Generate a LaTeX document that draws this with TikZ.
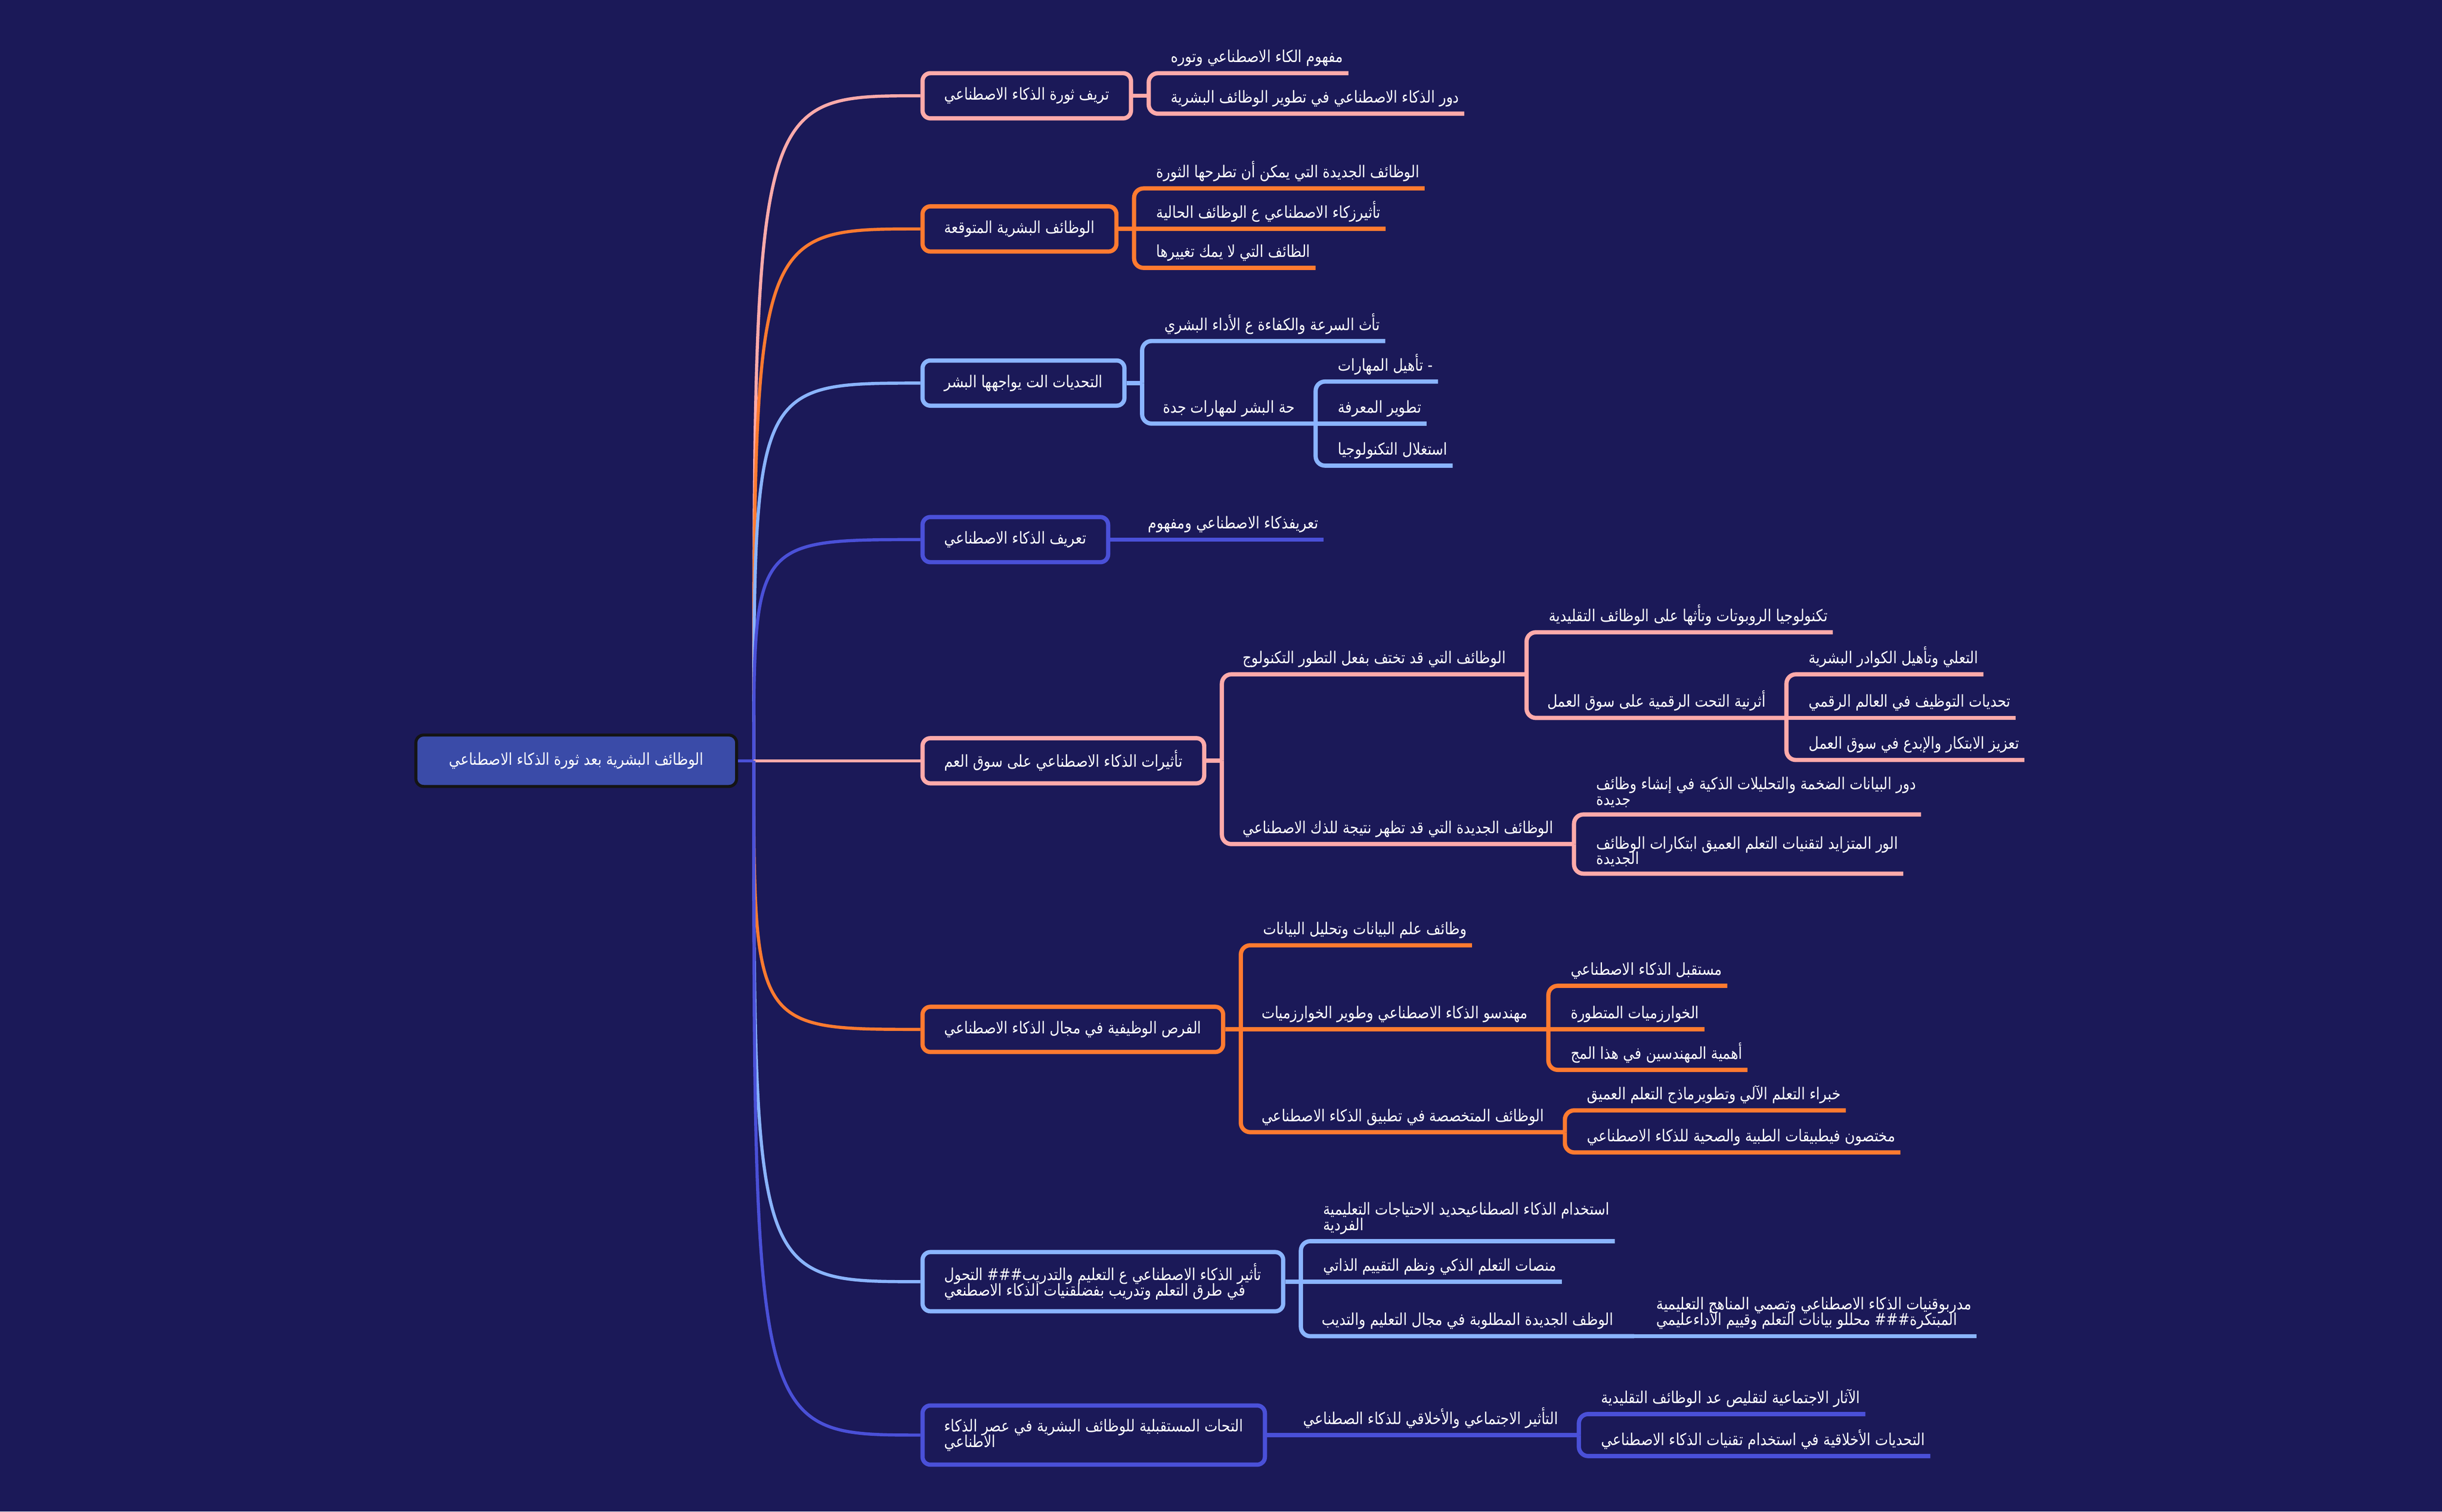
\documentclass[tikz,border=0pt]{standalone}
\usepackage{fontspec}
\newfontfamily\arabicfont[Script=Arabic, FakeStretch=0.85]{DejaVu Sans}
\TeXXeTstate=1
\newcommand\artx[1]{\beginR #1\endR}
\newcommand\tightlines{\lineskiplimit=-6pt\relax}
\definecolor{bgc}{HTML}{1B1958}
\definecolor{pinkc}{HTML}{FFAAAA}
\definecolor{orangec}{HTML}{FF7A30}
\definecolor{bluec}{HTML}{8AB4FF}
\definecolor{indigoc}{HTML}{4A50D8}
\definecolor{rootc}{HTML}{3A4BA8}
\tikzset{
  txt/.style={text=white, font=\arabicfont\fontsize{6}{5.7}\selectfont\tightlines, align=left},
  root/.style={txt, fill=rootc, draw=black!92, line width=1.1pt, rounded corners=0.1cm, minimum width=4.12cm, minimum height=0.66cm},
  topic/.style={txt, draw=#1, fill=bgc, line width=1.55pt, rounded corners=0.1cm, anchor=west, inner xsep=0.28cm, minimum height=0.58cm},
  leaf/.style={txt, anchor=south west, xshift=0.22cm, inner xsep=0.06cm, inner ysep=2.3pt},
  mid/.style={txt, anchor=south west, inner xsep=0.26cm, inner ysep=2.3pt},
  tie/.style={draw=#1, line width=1.55pt, rounded corners=0.12cm},
  trunk/.style={draw=#1, line width=1.15pt}
}
\begin{document}
\begin{tikzpicture}[x=0.02cm,y=-0.02cm]
\fill[bgc] (0,0) rectangle (1568,970.6);
\node[root] (root) at (370,488.5) {\artx{الوظائف البشرية بعد ثورة الذكاء الاصطناعي}};
\coordinate (hub) at (484,488.5);

\node[topic=pinkc] (b1) at (591,61.5) {\artx{تريف ثورة الذكاء الاصطناعي}};
\node[topic=orangec] (b2) at (591,147) {\artx{الوظائف البشرية المتوقعة}};
\node[topic=bluec] (b3) at (591,246) {\artx{التحديات الت يواجهها البشر}};
\node[topic=indigoc] (b4) at (591,346.5) {\artx{تعريف الذكاء الاصطناعي}};
\node[topic=pinkc] (b5) at (591,488.5) {\artx{تأثيرات الذكاء الاصطناعي على سوق العم}};
\node[topic=orangec] (b6) at (591,661) {\artx{الفرص الوظيفية في مجال الذكاء الاصطناعي}};
\node[topic=bluec, minimum height=0.76cm] (b7) at (591,823) {\artx{تأثير الذكاء الاصطناعي ع التعليم والتدريب\#\#\# التحول}\\\artx{في طرق التعلم وتدريب بفضلقنيات الذكاء الاصطنعي}};
\node[topic=indigoc, minimum height=0.76cm] (b8) at (591,921.5) {\artx{التحات المستقبلية للوظائف البشرية في عصر الذكاء}\\\artx{الاطناعي}};

\draw[trunk=indigoc] (root.east) -- (hub);
\draw[trunk=pinkc] (hub) .. controls (hub |- b1.west) .. (b1.west);
\draw[trunk=orangec] (hub) .. controls (hub |- b2.west) .. (b2.west);
\draw[trunk=bluec] (hub) .. controls (hub |- b3.west) .. (b3.west);
\draw[trunk=indigoc] (hub) .. controls (hub |- b4.west) .. (b4.west);
\draw[trunk=pinkc] (hub) -- (b5.west);
\draw[trunk=orangec] (hub) .. controls (hub |- b6.west) .. (b6.west);
\draw[trunk=bluec] (hub) .. controls (hub |- b7.west) .. (b7.west);
\draw[trunk=indigoc] (hub) .. controls (hub |- b8.west) .. (b8.west);

\coordinate (j1) at ([xshift=0.2cm]b1.east);
\node[leaf] (c11) at (j1 |- 0,47) {\artx{مفهوم الكاء الاصطناعي وتوره}};
\node[leaf] (c12) at (j1 |- 0,73) {\artx{دور الذكاء الاصطناعي في تطوير الوظائف البشرية}};
\draw[tie=pinkc] (b1.east) -- (j1);
\draw[tie=pinkc] (j1) |- (c11.south east);
\draw[tie=pinkc] (j1) |- (c12.south east);

\coordinate (j2) at ([xshift=0.2cm]b2.east);
\node[leaf] (c21) at (j2 |- 0,121) {\artx{الوظائف الجديدة التي يمكن أن تطرحها الثورة}};
\node[leaf] (c22) at (j2 |- 0,147) {\artx{تأثيرزكاء الاصطناعي ع الوظائف الحالية}};
\node[leaf] (c23) at (j2 |- 0,172) {\artx{الظائف التي لا يمك تغييرها}};
\draw[tie=orangec] (b2.east) -- (c22.south east);
\draw[tie=orangec] (j2) |- (c21.south east);
\draw[tie=orangec] (j2) |- (c23.south east);

\coordinate (j3) at ([xshift=0.2cm]b3.east);
\node[leaf] (c31) at (j3 |- 0,219) {\artx{تأث السرعة والكفاءة ع الأداء البشري}};
\node[mid] (c32) at (j3 |- 0,272) {\artx{حة البشر لمهارات جدة}};
\draw[tie=bluec] (b3.east) -- (j3);
\draw[tie=bluec] (j3) |- (c31.south east);
\draw[tie=bluec] (j3) |- (c32.south east);
\coordinate (j32) at (c32.south east);
\node[leaf] (c321) at (j32 |- 0,245) {\artx{- تأهيل المهارات}};
\node[leaf] (c322) at (j32 |- 0,272) {\artx{تطوير المعرفة}};
\node[leaf] (c323) at (j32 |- 0,299) {\artx{استغلال التكنولوجيا}};
\draw[tie=bluec] (j32) |- (c321.south east);
\draw[tie=bluec] (j32) -- (c322.south east);
\draw[tie=bluec] (j32) |- (c323.south east);

\coordinate (j4) at ([xshift=0.2cm]b4.east);
\node[leaf] (c41) at (j4 |- 0,346.5) {\artx{تعريفذكاء الاصطناعي ومفهوم}};
\draw[tie=indigoc] (b4.east) -- (c41.south east);

\coordinate (j5) at ([xshift=0.2cm]b5.east);
\node[mid] (c51) at (j5 |- 0,433) {\artx{الوظائف التي قد تختف بفعل التطور التكنولوج}};
\node[mid] (c52) at (j5 |- 0,542) {\artx{الوظائف الجديدة التي قد تظهر نتيجة للذك الاصطناعي}};
\draw[tie=pinkc] (b5.east) -- (j5);
\draw[tie=pinkc] (j5) |- (c51.south east);
\draw[tie=pinkc] (j5) |- (c52.south east);
\coordinate (j51) at (c51.south east);
\node[leaf] (c511) at (j51 |- 0,406) {\artx{تكنولوجيا الروبوتات وتأثها على الوظائف التقليدية}};
\node[mid] (c512) at (j51 |- 0,461) {\artx{أثرنية التحت الرقمية على سوق العمل}};
\draw[tie=pinkc] (j51) |- (c511.south east);
\draw[tie=pinkc] (j51) |- (c512.south east);
\coordinate (j512) at (c512.south east);
\node[leaf] (c5121) at (j512 |- 0,433) {\artx{التعلي وتأهيل الكوادر البشرية}};
\node[leaf] (c5122) at (j512 |- 0,461) {\artx{تحديات التوظيف في العالم الرقمي}};
\node[leaf] (c5123) at (j512 |- 0,488) {\artx{تعزيز الابتكار والإبدع في سوق العمل}};
\draw[tie=pinkc] (j512) |- (c5121.south east);
\draw[tie=pinkc] (j512) -- (c5122.south east);
\draw[tie=pinkc] (j512) |- (c5123.south east);
\coordinate (j52) at (c52.south east);
\node[leaf] (c521) at (j52 |- 0,523) {\artx{دور البيانات الضخمة والتحليلات الذكية في إنشاء وظائف}\\\artx{جديدة}};
\node[leaf] (c522) at (j52 |- 0,561) {\artx{الور المتزايد لتقنيات التعلم العميق ابتكارات الوظائف}\\\artx{الجديدة}};
\draw[tie=pinkc] (j52) |- (c521.south east);
\draw[tie=pinkc] (j52) |- (c522.south east);

\coordinate (j6) at ([xshift=0.2cm]b6.east);
\node[leaf] (c61) at (j6 |- 0,607) {\artx{وظائف علم البيانات وتحليل البيانات}};
\node[mid] (c62) at (j6 |- 0,661) {\artx{مهندسو الذكاء الاصطناعي وطوير الخوارزميات}};
\node[mid] (c63) at (j6 |- 0,727) {\artx{الوظائف المتخصصة في تطبيق الذكاء الاصطناعي}};
\draw[tie=orangec] (b6.east) -- (c62.south east);
\draw[tie=orangec] (j6) |- (c61.south east);
\draw[tie=orangec] (j6) |- (c63.south east);
\coordinate (j62) at (c62.south east);
\node[leaf] (c621) at (j62 |- 0,633) {\artx{مستقبل الذكاء الاصطناعي}};
\node[leaf] (c622) at (j62 |- 0,661) {\artx{الخوارزميات المتطورة}};
\node[leaf] (c623) at (j62 |- 0,687) {\artx{أهمية المهندسين في هذا المج}};
\draw[tie=orangec] (j62) |- (c621.south east);
\draw[tie=orangec] (j62) -- (c622.south east);
\draw[tie=orangec] (j62) |- (c623.south east);
\coordinate (j63) at (c63.south east);
\node[leaf] (c631) at (j63 |- 0,713) {\artx{خبراء التعلم الآلي وتطويرماذج التعلم العميق}};
\node[leaf] (c632) at (j63 |- 0,740) {\artx{مختصون فيطبيقات الطبية والصحية للذكاء الاصطناعي}};
\draw[tie=orangec] (j63) |- (c631.south east);
\draw[tie=orangec] (j63) |- (c632.south east);

\coordinate (j7) at ([xshift=0.2cm]b7.east);
\node[leaf] (c71) at (j7 |- 0,797) {\artx{استخدام الذكاء الصطناعيحديد الاحتياجات التعليمية}\\\artx{الفردية}};
\node[leaf] (c72) at (j7 |- 0,823) {\artx{منصات التعلم الذكي ونظم التقييم الذاتي}};
\node[mid] (c73) at (j7 |- 0,858) {\artx{الوظف الجديدة المطلوبة في مجال التعليم والتديب}};
\draw[tie=bluec] (b7.east) -- (c72.south east);
\draw[tie=bluec] (j7) |- (c71.south east);
\draw[tie=bluec] (j7) |- (c73.south east);
\coordinate (j73) at (c73.south east);
\node[leaf] (c731) at (j73 |- 0,858) {\artx{مدربوقنيات الذكاء الاصطناعي وتصمي المناهج التعليمية}\\\artx{المبتكرة\#\#\# محللو بيانات التعلم وقييم الأداءعليمي}};
\draw[tie=bluec] (j73) -- (c731.south east);

\coordinate (j8) at ([xshift=0.2cm]b8.east);
\node[mid] (c81) at (j8 |- 0,921.5) {\artx{التأثير الاجتماعي والأخلاقي للذكاء الصطناعي}};
\draw[tie=indigoc] (b8.east) -- (c81.south east);
\coordinate (j81) at (c81.south east);
\node[leaf] (c811) at (j81 |- 0,908) {\artx{الآثار الاجتماعية لتقليص عد الوظائف التقليدية}};
\node[leaf] (c812) at (j81 |- 0,935) {\artx{التحديات الأخلاقية في استخدام تقنيات الذكاء الاصطناعي}};
\draw[tie=indigoc] (j81) |- (c811.south east);
\draw[tie=indigoc] (j81) |- (c812.south east);
\end{tikzpicture}
\end{document}
